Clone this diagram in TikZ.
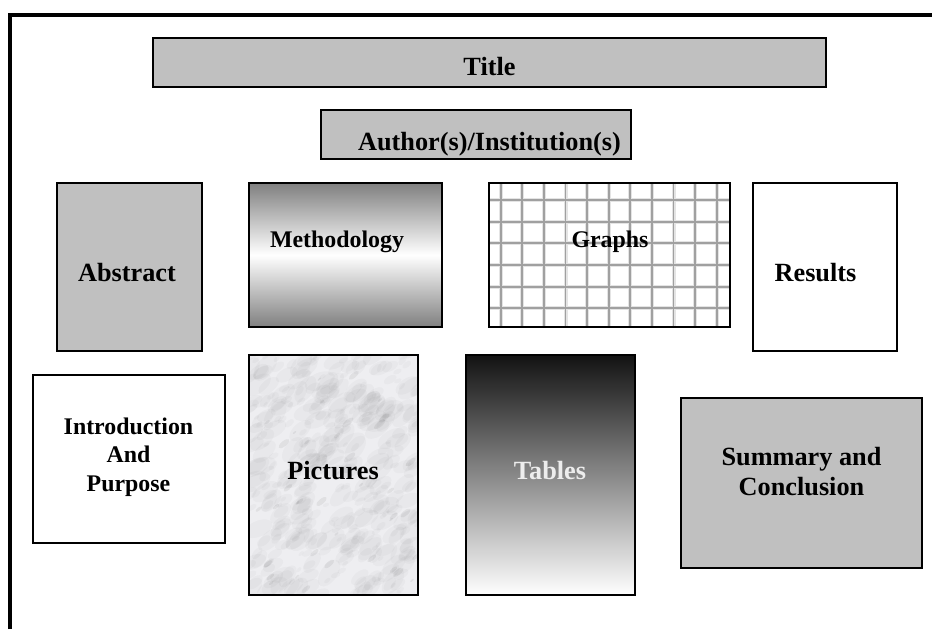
\documentclass[tikz,border=0pt]{standalone}
\usepackage{fontspec}
\setmainfont{Liberation Serif}
\definecolor{panelgray}{RGB}{192,192,192}
\definecolor{gridgray}{RGB}{160,160,160}
\definecolor{gridhalo}{RGB}{228,228,228}
\definecolor{marble}{RGB}{238,238,241}
\begin{document}
\begin{tikzpicture}[x=0.75pt, y=-0.75pt,
        panel/.style={draw=black, line width=1.5pt},
        bigtxt/.style={font=\bfseries\fontsize{19.7}{22.5}\selectfont, anchor=base, align=center, inner sep=0pt},
        smalltxt/.style={font=\bfseries\fontsize{17.9}{21.6}\selectfont, anchor=base, align=center, inner sep=0pt}]
        \useasboundingbox (0,0) rectangle (932,629);
        % page frame
        \draw[line width=3pt] (9.5,629) -- (9.5,15) -- (932,15);
        % header
        \draw[panel, fill=panelgray] (153,38) rectangle (826,87);
        \node[bigtxt] (title) at (489.5,75) {Title};
        \draw[panel, fill=panelgray] (321,110) rectangle (631,159);
        \node[bigtxt] (author) at (489.5,150) {Author(s)/Institution(s)};
        % upper row
        \draw[panel, fill=panelgray] (57,183) rectangle (202,351);
        \node[bigtxt] (abstract) at (127,281) {Abstract};
        \draw[panel, top color=gray, bottom color=gray, middle color=white] (249,183) rectangle (442,327);
        \node[smalltxt] (method) at (337,247.7) {Methodology};
        \fill[white] (489,183) rectangle (730,327);
        \foreach \gx in {0,...,10}
        {
                \draw[gridhalo, line width=3pt] ({500.7+21.6*\gx},183) -- ++(0,144);
        }
        \foreach \gy in {0,...,5}
        {
                \draw[gridhalo, line width=3pt] (489,{200+21.65*\gy}) -- ++(241,0);
        }
        \foreach \gx in {0,...,10}
        {
                \draw[gridgray, line width=1.4pt] ({500.7+21.6*\gx},183) -- ++(0,144);
        }
        \foreach \gy in {0,...,5}
        {
                \draw[gridgray, line width=1.4pt] (489,{200+21.65*\gy}) -- ++(241,0);
        }
        \draw[panel] (489,183) rectangle (730,327);
        \node[smalltxt] (graphs) at (610,247.7) {Graphs};
        \draw[panel, fill=white] (753,183) rectangle (897,351);
        \node[bigtxt] (results) at (815.5,281) {Results};
        % lower row
        \draw[panel, fill=white] (33,375) rectangle (225,543);
        \node[smalltxt] (intro) at (128.5,491.7) {Introduction\\And\\Purpose};
        \begin{scope}
                \clip (249,355) rectangle (418,595);
                \fill[marble] (249,355) rectangle (418,595);
                \pgfmathsetseed{11}
                \foreach \k in {1,...,420}
                {
                        \pgfmathsetmacro{\mx}{249+169*rnd}
                        \pgfmathsetmacro{\my}{355+240*rnd}
                        \pgfmathsetmacro{\mr}{3+13*rnd}
                        \pgfmathsetmacro{\ma}{20+35*rnd}
                        \fill[black, opacity=0.025, rotate around={\ma:(\mx,\my)}] (\mx,\my) ellipse ({\mr*0.75pt} and {\mr*0.4pt});
                }
                \foreach \k in {1,...,40}
                {
                        \pgfmathsetmacro{\mx}{249+169*rnd}
                        \pgfmathsetmacro{\my}{355+240*rnd}
                        \pgfmathsetmacro{\mr}{2+5*rnd}
                        \fill[black, opacity=0.06, rotate around={40:(\mx,\my)}] (\mx,\my) ellipse ({\mr*0.75pt} and {\mr*0.3pt});
                }
        \end{scope}
        \draw[panel] (249,355) rectangle (418,595);
        \node[bigtxt] (pictures) at (333,479.3) {Pictures};
        \draw[panel, top color=black!93, bottom color=white] (466,355) rectangle (635,595);
        \node[bigtxt, text=white!93!black] (tables) at (550,479.3) {Tables};
        \draw[panel, fill=panelgray] (681,398) rectangle (922,568);
        \node[bigtxt] (summary) at (801.5,495) {Summary and\\Conclusion};
\end{tikzpicture}
\end{document}
